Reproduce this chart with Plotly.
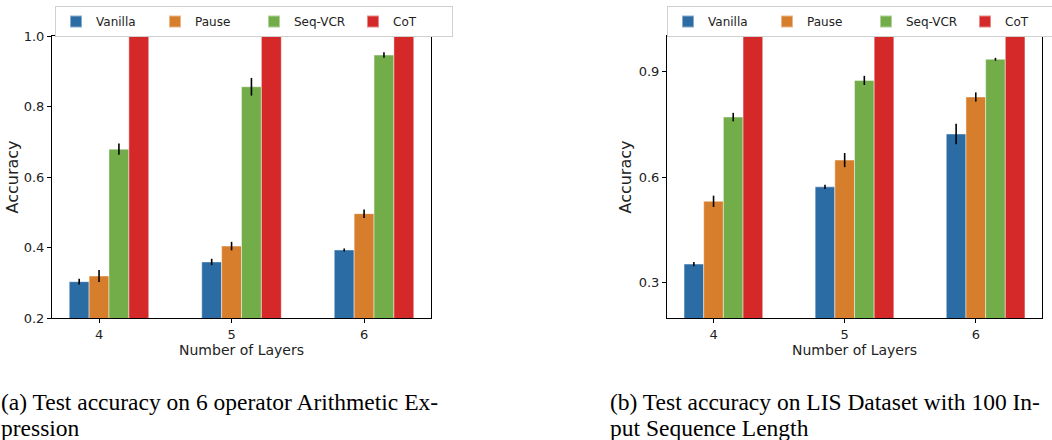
import plotly.graph_objects as go

layers = [4, 5, 6]
methods = ["Vanilla", "Pause", "Seq-VCR", "CoT"]
colors = ["#2c6ca4", "#d77e2d", "#73ad4a", "#d52828"]

# (a) 6 operator Arithmetic Expression
arith_vanilla = [0.303, 0.359, 0.393]
arith_pause = [0.319, 0.404, 0.496]
arith_seqvcr = [0.679, 0.856, 0.946]
arith_cot = [1.0, 1.0, 1.0]
arith_vanilla_err = [0.008, 0.009, 0.004]
arith_pause_err = [0.017, 0.012, 0.012]
arith_seqvcr_err = [0.016, 0.025, 0.008]
arith_cot_err = [0.0, 0.0, 0.0]

# (b) LIS dataset, 100 input sequence length
lis_vanilla = [0.353, 0.572, 0.722]
lis_pause = [0.531, 0.648, 0.827]
lis_seqvcr = [0.770, 0.874, 0.934]
lis_cot = [1.0, 1.0, 1.0]
lis_vanilla_err = [0.006, 0.006, 0.029]
lis_pause_err = [0.016, 0.020, 0.013]
lis_seqvcr_err = [0.012, 0.013, 0.004]
lis_cot_err = [0.0, 0.0, 0.0]

left_ticks = [0.2, 0.4, 0.6, 0.8, 1.0]
right_ticks = [0.3, 0.6, 0.9]

caption_a = ["(a) Test accuracy on 6 operator Arithmetic Ex-", "pression"]
caption_b = ["(b) Test accuracy on LIS Dataset with 100 In-", "put Sequence Length"]

bar_w = 0.15
slot = [-1, 0, 1, 2]

W, H = 1052, 440
ML, MR, MT, MB = 52, 10, 36, 122
PW, PH = W - ML - MR, H - MT - MB

fig = go.Figure()

panels = [
    ("x", "y", "legend", [arith_vanilla, arith_pause, arith_seqvcr, arith_cot],
     [arith_vanilla_err, arith_pause_err, arith_seqvcr_err, arith_cot_err]),
    ("x2", "y2", "legend2", [lis_vanilla, lis_pause, lis_seqvcr, lis_cot],
     [lis_vanilla_err, lis_pause_err, lis_seqvcr_err, lis_cot_err]),
]

for xa, ya, lg, vals, errs in panels:
    for k, m in enumerate(methods):
        xs = [l + slot[k] * bar_w for l in layers]
        fig.add_trace(go.Bar(
            x=xs, y=vals[k], width=bar_w, name=m, xaxis=xa, yaxis=ya, legend=lg,
            marker=dict(color=colors[k], line=dict(color="rgba(255,255,255,0.45)", width=1)),
            error_y=dict(type="data", array=errs[k], visible=any(e > 0 for e in errs[k]),
                         color="black", thickness=1.6, width=0),
        ))

axis_common = dict(showline=True, linecolor="black", linewidth=1, mirror=True,
                   ticks="outside", ticklen=4, tickcolor="black", showgrid=False,
                   zeroline=False, automargin=False,
                   tickfont=dict(family="DejaVu Sans", size=13, color="#222"))

xr = [layers[0] - 1.5 * bar_w - 0.13, layers[-1] + 2.5 * bar_w + 0.13]


def px_x(p):
    return (p - ML) / PW


def px_y(p):
    return (H - MB - p) / PH


legend_common = dict(orientation="h", xanchor="left", yanchor="top",
                     bordercolor="#d0d0d0", borderwidth=1, bgcolor="white",
                     font=dict(family="DejaVu Sans", size=12, color="#222"),
                     entrywidth=54, entrywidthmode="pixels", itemsizing="constant")

fig.update_layout(
    width=W, height=H, margin=dict(l=ML, r=MR, t=MT, b=MB, autoexpand=False),
    paper_bgcolor="white", plot_bgcolor="white", barmode="overlay",
    font=dict(family="DejaVu Sans", color="#222"),
    xaxis=dict(domain=[0, px_x(431)], range=xr, tickvals=layers, ticktext=[str(v) for v in layers],
               title=dict(text="Number of Layers", font=dict(size=14), standoff=4), anchor="y", **axis_common),
    yaxis=dict(domain=[0, 1], range=[0.2, 1.0], tickvals=left_ticks, ticktext=[f"{v:.1f}" for v in left_ticks],
               title=dict(text="Accuracy", font=dict(size=16), standoff=1), anchor="x", **axis_common),
    xaxis2=dict(domain=[px_x(667), 1], range=xr, tickvals=layers, ticktext=[str(v) for v in layers],
                title=dict(text="Number of Layers", font=dict(size=14), standoff=4), anchor="y2", **axis_common),
    yaxis2=dict(domain=[0, 1], range=[0.2, 1.0], tickvals=right_ticks, ticktext=[f"{v:.1f}" for v in right_ticks],
                title=dict(text="Accuracy", font=dict(size=16), standoff=3), anchor="x2", **axis_common),
    legend=dict(x=px_x(55), y=px_y(6), **legend_common),
    legend2=dict(x=px_x(667), y=px_y(6), **legend_common),
)

for lines, x0 in [(caption_a, 0), (caption_b, 609)]:
    for line, yc in zip(lines, [402, 428]):
        fig.add_annotation(text=line, xref="paper", yref="paper", x=px_x(x0), y=px_y(yc),
                           xanchor="left", yanchor="middle", align="left", showarrow=False,
                           borderpad=0,
                           font=dict(family="Liberation Serif", size=23.5, color="black"))

fig.write_html("out.html", config={"displayModeBar": False},
               post_script="document.body.style.margin='0';document.body.style.padding='0';")
